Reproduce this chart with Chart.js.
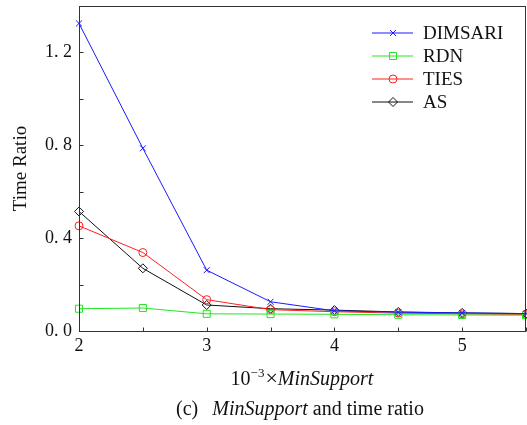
<!DOCTYPE html>
<html>
<head>
<meta charset="utf-8">
<script src="https://cdn.jsdelivr.net/npm/chart.js@4.4.1/dist/chart.umd.min.js"></script>
<style>
  html, body { margin: 0; padding: 0; background: #fff; }
  canvas { display: block; }
</style>
</head>
<body>
<canvas id="chart" width="527" height="425"></canvas>
<script>
// MinSupport (x 10^-3) against time ratio
const minSupport = [2, 2.5, 3, 3.5, 4, 4.5, 5, 5.5];
const dimsari = [1.325, 0.787, 0.262, 0.126, 0.087, 0.081, 0.078, 0.075];
const rdn = [0.096, 0.099, 0.074, 0.073, 0.072, 0.070, 0.069, 0.068];
const ties = [0.453, 0.338, 0.135, 0.092, 0.083, 0.077, 0.074, 0.071];
const as = [0.515, 0.270, 0.112, 0.096, 0.090, 0.082, 0.078, 0.075];
const yTickLabels = [0, 0.4, 0.8, 1.2];
const xTickLabels = [2, 3, 4, 5];

const serif = "'Liberation Serif', 'Times New Roman', serif";

const points = (ys) => minSupport.map((x, i) => ({ x: x, y: ys[i] }));

const series = [
  { label: 'DIMSARI', data: dimsari, color: '#1a1aff', style: 'crossRot', radius: 4.2 },
  { label: 'RDN', data: rdn, color: '#22e622', style: 'rect', radius: 5 },
  { label: 'TIES', data: ties, color: '#ff2020', style: 'circle', radius: 4 },
  { label: 'AS', data: as, color: '#111111', style: 'rectRot', radius: 4.5 },
];

function font(size, italic) {
  return (italic ? 'italic ' : '') + size + 'px ' + serif;
}

// draws a line of text made of several runs, centred on cx
function drawRuns(ctx, runs, cx, baseline) {
  let total = 0;
  runs.forEach((r) => {
    ctx.font = r.font;
    r.w = ctx.measureText(r.text).width + (r.gap || 0);
    total += r.w;
  });
  let x = cx - total / 2;
  ctx.textBaseline = 'alphabetic';
  ctx.textAlign = 'left';
  runs.forEach((r) => {
    ctx.font = r.font;
    ctx.fillText(r.text, x, baseline + (r.dy || 0));
    x += r.w;
  });
}

// fixed axis box, no extra room for the end tick labels
function fixedBox(size) {
  return (s) => {
    if (s.isHorizontal()) s.height = size; else s.width = size;
    s.paddingTop = 0;
    s.paddingBottom = 0;
    s.paddingLeft = 0;
    s.paddingRight = 0;
  };
}

const decorations = {
  id: 'decorations',
  afterDraw(chart) {
    const { ctx, chartArea: a, scales } = chart;
    const left = Math.round(a.left) + 0.5;
    const top = Math.round(a.top) + 0.5;
    const right = Math.round(a.right) - 0.5;
    const bottom = Math.round(a.bottom) + 0.5;
    ctx.save();
    ctx.strokeStyle = '#333';
    ctx.lineWidth = 1;
    ctx.strokeRect(left, top, right - left, bottom - top);

    // inward tick marks
    ctx.beginPath();
    scales.x.ticks.forEach((t) => {
      const px = Math.round(scales.x.getPixelForValue(t.value)) + 0.5;
      ctx.moveTo(px, bottom);
      ctx.lineTo(px, bottom - 4);
    });
    scales.y.ticks.forEach((t) => {
      const py = Math.round(scales.y.getPixelForValue(t.value)) + 0.5;
      ctx.moveTo(left, py);
      ctx.lineTo(left + 4, py);
    });
    ctx.stroke();

    // legend
    chart.data.datasets.forEach((ds, i) => {
      const y = 33 + i * 23;
      ctx.strokeStyle = ds.borderColor;
      ctx.lineWidth = 1;
      ctx.beginPath();
      ctx.moveTo(372, y);
      ctx.lineTo(413, y);
      ctx.stroke();
      ctx.fillStyle = 'rgba(0,0,0,0)';
      Chart.helpers.drawPoint(ctx, {
        pointStyle: ds.pointStyle,
        radius: ds.pointRadius,
        borderWidth: 1,
        rotation: 0,
      }, 393, y);
      ctx.fillStyle = '#111';
      ctx.font = font(19);
      ctx.textAlign = 'left';
      ctx.textBaseline = 'middle';
      ctx.fillText(ds.label, 423, y + 1);
    });

    // axis title and caption
    ctx.fillStyle = '#111';
    drawRuns(ctx, [
      { text: '10', font: font(20) },
      { text: '\u22123', font: font(13), dy: -8, gap: 1 },
      { text: '\u00d7', font: font(22) },
      { text: 'MinSupport', font: font(20, true) },
    ], 302, 385);
    drawRuns(ctx, [
      { text: '(c)', font: font(20), gap: 14 },
      { text: 'MinSupport', font: font(20, true), gap: 5 },
      { text: 'and time ratio', font: font(20) },
    ], 300, 415);
    ctx.restore();
  },
};

new Chart(document.getElementById('chart').getContext('2d'), {
  type: 'line',
  data: {
    datasets: series.map((s) => ({
      label: s.label,
      data: points(s.data),
      borderColor: s.color,
      backgroundColor: 'rgba(0,0,0,0)',
      borderWidth: 1,
      pointStyle: s.style,
      pointRadius: s.radius,
      pointBorderWidth: 1,
      pointBorderColor: s.color,
      pointBackgroundColor: 'rgba(0,0,0,0)',
      tension: 0,
      clip: false,
    })),
  },
  options: {
    responsive: false,
    animation: false,
    layout: { autoPadding: false, padding: { top: 6, right: 1, left: 0, bottom: 0 } },
    plugins: {
      legend: { display: false },
      tooltip: { enabled: false },
    },
    scales: {
      x: {
        type: 'linear',
        min: 2,
        max: 5.5,
        grid: { display: false, drawTicks: false },
        border: { display: false },
        ticks: {
          stepSize: 0.5,
          padding: 4,
          color: '#111',
          font: { family: serif, size: 18 },
          callback: (v) => (xTickLabels.includes(v) ? String(v) : ''),
        },
        afterFit: fixedBox(94),
      },
      y: {
        min: 0,
        max: 1.4,
        grid: { display: false, drawTicks: false },
        border: { display: false },
        title: {
          display: true,
          text: 'Time Ratio',
          color: '#111',
          font: { family: serif, size: 19 },
          padding: { top: 10 },
        },
        ticks: {
          stepSize: 0.2,
          padding: 7,
          color: '#111',
          font: { family: serif, size: 18 },
          callback: (v) => {
            const r = Math.round(v * 10) / 10;
            return yTickLabels.includes(r) ? r.toFixed(1).replace('.', '. ') : '';
          },
        },
        afterFit: fixedBox(79),
      },
    },
  },
  plugins: [decorations],
});
</script>
</body>
</html>
